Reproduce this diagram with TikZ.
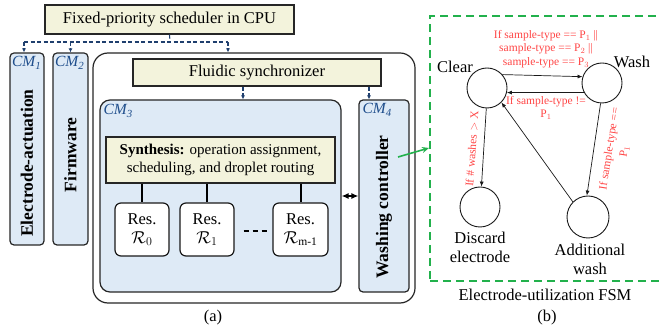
\documentclass[tikz,border=0pt]{standalone}
\usepackage{amsmath}
\usepackage{fontspec}
\setmainfont{Liberation Serif}
\usetikzlibrary{arrows.meta, positioning, calc}
\definecolor{boxyellow}{HTML}{F3F3DC}
\definecolor{boxblue}{HTML}{DEEAF6}
\definecolor{cmblue}{HTML}{1F4E8C}
\definecolor{linkblue}{HTML}{1F3F6E}
\definecolor{fsmgreen}{HTML}{22B14C}
\definecolor{labelred}{HTML}{FF4545}
\tikzset{
    bigfont/.style={font=\fontsize{16.5}{19}\selectfont},
    yellowbox/.style={draw=black!85, fill=boxyellow, line width=1.2pt, inner sep=0pt, bigfont},
    bluebox/.style={draw=black!85, fill=boxblue, line width=1.2pt, rounded corners=4pt, inner sep=0pt},
    resbox/.style={draw=black!90, fill=white, line width=1.2pt, rounded corners=6pt, inner sep=0pt,
        minimum width=54pt, minimum height=53pt, align=center, bigfont},
    cmlabel/.style={anchor=north west, inner sep=1pt, text=cmblue, font=\fontsize{15.5}{17}\selectfont\itshape},
    vertlabel/.style={rotate=90, font=\fontsize{17.5}{20}\selectfont\bfseries},
    dashlink/.style={draw=linkblue, line width=1.1pt, dash pattern=on 4pt off 2.5pt},
    dasharrow/.style={dashlink, -{Latex[length=4pt,width=4pt]}},
    state/.style={circle, draw=black!90, line width=0.9pt, minimum size=40pt, inner sep=0pt},
    fsmarrow/.style={draw=black!90, line width=0.7pt, -{Latex[length=5pt,width=4pt]}},
    redlabel/.style={text=labelred, align=center, inner sep=0pt, font=\fontsize{11.5}{13.5}\selectfont}
}

\begin{document}
\begin{tikzpicture}[x=1pt, y=-1pt]
\useasboundingbox (0,0) rectangle (661,328);

% left part (a)
\node[yellowbox, minimum width=249pt, minimum height=29pt] (sched) at (169.5,19.5) {Fixed-priority scheduler in CPU};
\node[bluebox, minimum width=34pt, minimum height=192pt] (cm1) at (27,149) {};
\node[bluebox, minimum width=35pt, minimum height=192pt] (cm2) at (70.5,149) {};
\node[draw=black!85, fill=white, line width=1.2pt, rounded corners=15pt, minimum width=322pt, minimum height=250pt] (outer) at (254,178) {};
\node[yellowbox, minimum width=248pt, minimum height=27pt] (fluid) at (257,72.5) {Fluidic synchronizer};
\node[bluebox, rounded corners=10pt, minimum width=241pt, minimum height=192pt] (cm3) at (220.5,196) {};
\node[bluebox, minimum width=50pt, minimum height=192pt] (cm4) at (384,196) {};

\node[cmlabel] (cm1lbl) at ([xshift=1.5pt,yshift=-3pt]cm1.north west) {CM\textsubscript{1}};
\node[cmlabel] (cm2lbl) at ([xshift=1.5pt,yshift=-3pt]cm2.north west) {CM\textsubscript{2}};
\node[cmlabel] (cm3lbl) at ([xshift=3pt,yshift=-4pt]cm3.north west) {CM\textsubscript{3}};
\node[cmlabel] (cm4lbl) at ([xshift=3pt,yshift=-3pt]cm4.north west) {CM\textsubscript{4}};

\node[vertlabel] (cm1txt) at (27,163) {Electrode-actuation};
\node[vertlabel] (cm2txt) at (70.5,155) {Firmware};
\node[vertlabel] (cm4txt) at (384,207) {Washing controller};

\node[yellowbox, minimum width=229pt, minimum height=46pt, align=center, font=\fontsize{15}{17.5}\selectfont] (synth) at (220.5,160)
    {\textbf{Synthesis:} operation assignment,\\scheduling, and droplet routing};
\node[resbox] (res0) at (142,229.5) {Res.\\$\mathcal{R}_{0}$};
\node[resbox] (res1) at (207,229.5) {Res.\\$\mathcal{R}_{1}$};
\node[resbox, minimum width=55pt] (resm) at (300.5,229.5) {Res.\\$\mathcal{R}_{\mathrm{m\text{-}1}}$};

\draw[line width=2pt] (res0.north |- synth.south) -- (res0.north);
\draw[line width=2pt] (res1.north |- synth.south) -- (res1.north);
\draw[line width=2pt] (resm.north |- synth.south) -- (resm.north);
\draw[line width=1.2pt, dash pattern=on 5pt off 4pt] ([xshift=9pt,yshift=-1.5pt]res1.east) -- ([xshift=-5pt,yshift=-1.5pt]resm.west);
\draw[line width=2pt, {Latex[length=7pt,width=6pt]}-{Latex[length=7pt,width=6pt]}] (cm3.east) -- (cm4.west);

\coordinate (bus) at (170,42);
\coordinate (busend) at (228,42);
\draw[dashlink] (sched.south) -- (bus);
\draw[dashlink] ([xshift=-3pt]cm1.north |- bus) -- (busend);
\draw[dasharrow] ([xshift=-3pt]cm1.north |- bus) -- ([xshift=-3pt]cm1.north);
\draw[dasharrow] (cm2.north |- bus) -- (cm2.north);
\draw[dasharrow] (busend) -- (busend |- outer.north);
\coordinate (to3) at ([xshift=-14pt]fluid.south);
\coordinate (to4) at ([xshift=-15pt]cm4.north);
\draw[dasharrow] (to3) -- (to3 |- cm3.north);
\draw[dasharrow] (to4 |- fluid.south) -- (to4);

\node[bigfont] (capa) at (213,318) {(a)};

% right part (b)
\node[draw=fsmgreen, line width=1.6pt, dash pattern=on 8pt off 5pt, minimum width=234pt, minimum height=265pt] (fsm) at (547,148.5) {};
\coordinate (fsmin) at (429,148);
\draw[draw=fsmgreen, line width=1.6pt, -{Stealth[length=7pt,width=6pt]}] ([xshift=14pt,yshift=39pt]cm4.center) -- (fsmin);

\node[state] (clear) at (487,88) {};
\node[state] (wash) at (602,83) {};
\node[state] (discard) at (480,207) {};
\node[state, minimum size=42pt] (addwash) at (588,217) {};

\node[bigfont] (clearlbl) at (455,67) {Clear};
\node[bigfont] (washlbl) at (632,62) {Wash};
\node[bigfont, align=center] (discardlbl) at (480,247) {Discard\\electrode};
\node[bigfont, align=center] (addwashlbl) at (590,259) {Additional\\wash};

\draw[fsmarrow] (clear.41) -- (wash.162);
\draw[fsmarrow] (wash.208) -- (clear.347);
\draw[fsmarrow] (clear.268) -- (discard.86);
\draw[fsmarrow] (wash.266) -- (addwash.93);
\draw[fsmarrow] (addwash.135) -- (clear.315);

\node[redlabel] (cond1) at (546,49) {If sample-type == P$_1$ ||\\sample-type == P$_2$ ||\\sample-type == P$_3$};
\node[redlabel] (cond2) at (546,108) {If sample-type !=\\P$_1$};
\node[redlabel, rotate=86] (cond3) at (472,149) {If \# washes $>$ X};
\node[redlabel, rotate=81, font=\fontsize{11.5}{15}\selectfont] (cond4) at (617,150) {If sample-type ==\\P$_1$};

\node[bigfont] (fsmname) at (545,295) {Electrode-utilization FSM};
\node[bigfont] (capb) at (547,318) {(b)};
\end{tikzpicture}
\end{document}
